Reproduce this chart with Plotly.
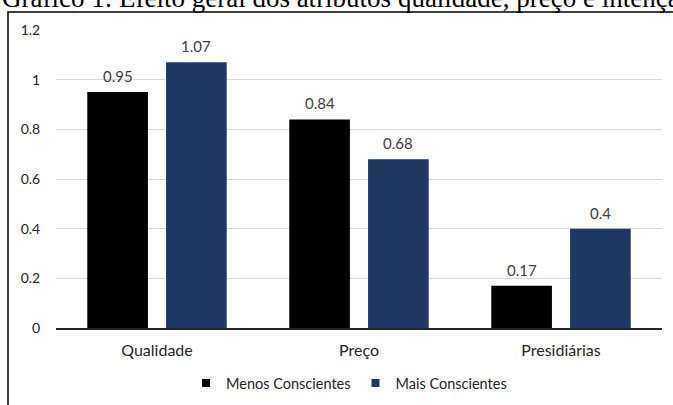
import plotly.graph_objects as go

categories = ["Qualidade", "Preço", "Presidiárias"]
menos_conscientes = [0.95, 0.84, 0.17]
mais_conscientes = [1.07, 0.68, 0.4]
y_ticks = [0, 0.2, 0.4, 0.6, 0.8, 1, 1.2]
y_tick_labels = ["0", "0.2", "0.4", "0.6", "0.8", "1", "1.2"]

series = [
    ("Menos Conscientes", menos_conscientes, "#000000"),
    ("Mais Conscientes", mais_conscientes, "#1f3864"),
]

W, H = 673, 405
M_L, M_R, M_T, M_B = 56, 11, 30, 77
plot_w = W - M_L - M_R
plot_h = H - M_T - M_B

def px_x(p):
    return (p - M_L) / plot_w

def px_y(p):
    return (H - M_B - p) / plot_h

FONT = "Lato, Open Sans, sans-serif"
label_font = dict(family=FONT, size=15, color="#404040")
axis_font = dict(family=FONT, size=14, color="#262626")

fig = go.Figure()
for name, vals, color in series:
    fig.add_trace(go.Bar(
        x=categories, y=vals, name=name, marker_color=color,
        marker_line_width=0, showlegend=False,
        text=[f"{v:g}" for v in vals], textposition="none",
    ))
    # legend entry with a small square swatch
    fig.add_trace(go.Scatter(
        x=[None], y=[None], mode="markers", name=name,
        marker=dict(symbol="square", size=8, color=color),
    ))

# value labels above each bar
offsets = [-0.195, 0.195]
for (name, vals, color), off in zip(series, offsets):
    for i, v in enumerate(vals):
        fig.add_annotation(
            x=i + off, y=v, xref="x", yref="y", text=f"{v:g}",
            showarrow=False, yanchor="bottom", yshift=5,
            font=label_font,
        )

# figure caption, partly cut off at the top of the page
fig.add_annotation(
    x=px_x(1), y=px_y(14), xref="paper", yref="paper",
    text="Gráfico 1: Efeito geral dos atributos qualidade, preço e intenção de compra",
    showarrow=False, xanchor="left", yanchor="bottom", borderpad=0,
    font=dict(family="Liberation Serif, Times New Roman, serif", size=27, color="#000000"),
)

# chart frame
fig.add_shape(
    type="rect", xref="paper", yref="paper",
    x0=px_x(8), x1=px_x(W + 20), y0=px_y(H + 20), y1=px_y(12),
    line=dict(color="#000000", width=1.5), fillcolor="rgba(0,0,0,0)", layer="below",
)

fig.update_layout(
    width=W, height=H,
    margin=dict(l=M_L, r=M_R, t=M_T, b=M_B, pad=0, autoexpand=False),
    paper_bgcolor="#ffffff", plot_bgcolor="#ffffff",
    barmode="group", bargap=0.22, bargroupgap=0.23,
    font=label_font,
    legend=dict(
        orientation="h", xref="container", yref="container",
        x=349 / W, y=1 - 383 / H, xanchor="center", yanchor="middle",
        font=dict(family=FONT, size=14.5, color="#262626"),
        itemwidth=30, bgcolor="rgba(0,0,0,0)",
    ),
    xaxis=dict(
        showgrid=False, showline=True, linecolor="#262626", linewidth=1.5,
        ticks="outside", ticklen=7, tickcolor="rgba(0,0,0,0)",
        tickfont=dict(family=FONT, size=16, color="#262626"),
    ),
    yaxis=dict(
        range=[0, 1.2], tickvals=y_ticks, ticktext=y_tick_labels,
        showgrid=True, gridcolor="#d9d9d9", gridwidth=1,
        zeroline=False, showline=False,
        ticks="outside", ticklen=12, tickcolor="rgba(0,0,0,0)",
        tickfont=axis_font,
    ),
)

fig.write_html("out.html")
